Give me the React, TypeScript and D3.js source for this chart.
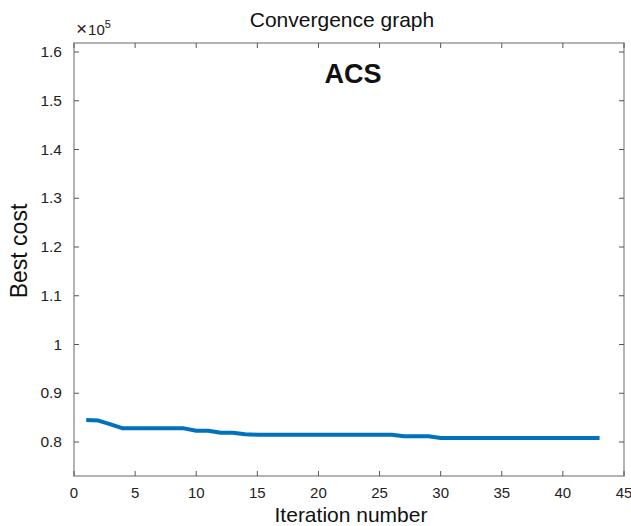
import React from "react";
import * as d3 from "d3";

const iterations = [
  1, 2, 3, 4, 5, 6, 7, 8, 9, 10, 11, 12, 13, 14, 15, 16, 17, 18, 19, 20, 21, 22,
  23, 24, 25, 26, 27, 28, 29, 30, 31, 32, 33, 34, 35, 36, 37, 38, 39, 40, 41, 42, 43,
];
const bestCost = [
  0.845, 0.844, 0.836, 0.828, 0.828, 0.828, 0.828, 0.828, 0.828, 0.823, 0.823,
  0.819, 0.819, 0.816, 0.815, 0.815, 0.815, 0.815, 0.815, 0.8148, 0.8148, 0.8148,
  0.8148, 0.8148, 0.8148, 0.8148, 0.812, 0.812, 0.812, 0.808, 0.808, 0.808,
  0.808, 0.808, 0.808, 0.808, 0.808, 0.808, 0.808, 0.808, 0.808, 0.808, 0.808,
];
const xTicks = [0, 5, 10, 15, 20, 25, 30, 35, 40, 45];
const yTicks = [0.8, 0.9, 1, 1.1, 1.2, 1.3, 1.4, 1.5, 1.6];

const W = 631;
const H = 526;
const left = 74;
const right = 624;
const top = 43;
const bottom = 476;

export default function App() {
  const x = d3.scaleLinear().domain([0, 45]).range([left, right]);
  const y = d3.scaleLinear().domain([0.8, 1.6]).range([442, 52]);
  const line = d3
    .line<number>()
    .x((_, i) => x(iterations[i]))
    .y((d) => y(d));
  const axisColor = "#9a9a9a";
  const tickColor = "#555";
  const font = "Arial, 'Liberation Sans', Helvetica, sans-serif";
  return (
    <svg
      width={W}
      height={H}
      style={{ position: "absolute", left: 0, top: 0, background: "#fff" }}
      fontFamily={font}
    >
      <rect x={0} y={0} width={W} height={H} fill="#fff" />
      <rect
        x={left}
        y={top}
        width={right - left}
        height={bottom - top}
        fill="none"
        stroke={axisColor}
        strokeWidth={1.5}
      />
      {xTicks.map((t) => (
        <g key={"x" + t}>
          <line x1={x(t)} x2={x(t)} y1={bottom} y2={bottom - 5} stroke={tickColor} strokeWidth={1} />
          <line x1={x(t)} x2={x(t)} y1={top} y2={top + 5} stroke={tickColor} strokeWidth={1} />
          <text x={x(t)} y={498} fontSize={15} textAnchor="middle" fill="#222">
            {t}
          </text>
        </g>
      ))}
      {yTicks.map((t) => (
        <g key={"y" + t}>
          <line x1={left} x2={left + 5} y1={y(t)} y2={y(t)} stroke={tickColor} strokeWidth={1} />
          <line x1={right} x2={right - 5} y1={y(t)} y2={y(t)} stroke={tickColor} strokeWidth={1} />
          <text x={62} y={y(t) + 5} fontSize={15.5} textAnchor="end" fill="#222">
            {String(t)}
          </text>
        </g>
      ))}
      <path
        d={line(bestCost) || ""}
        fill="none"
        stroke="#0072BD"
        strokeWidth={4}
        strokeLinejoin="round"
      />
      <text x={76} y={35} fontSize={15} fill="#222">
        <tspan fontSize={19}>×</tspan>
        <tspan dx={1}>10</tspan>
        <tspan fontSize={11} dy={-7}>5</tspan>
      </text>
      <text x={342} y={27} fontSize={21} textAnchor="middle" fill="#111">
        Convergence graph
      </text>
      <text x={353} y={83} fontSize={27} fontWeight="bold" textAnchor="middle" fill="#111">
        ACS
      </text>
      <text x={351} y={522} fontSize={21} textAnchor="middle" fill="#111">
        Iteration number
      </text>
      <text
        transform={`translate(27,251) rotate(-90)`}
        fontSize={23}
        textAnchor="middle"
        fill="#111"
      >
        Best cost
      </text>
    </svg>
  );
}
